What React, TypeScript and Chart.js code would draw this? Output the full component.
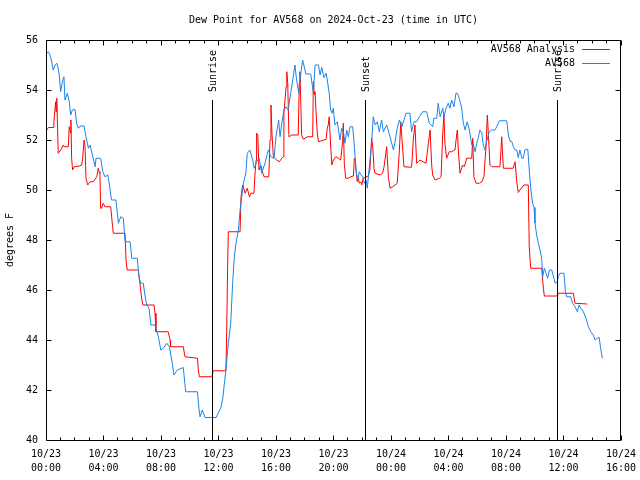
import { useEffect, useRef } from 'react';
import { Chart, registerables } from 'chart.js';

Chart.register(...registerables);

const TITLE = 'Dew Point for AV568 on 2024-Oct-23 (time in UTC)';
const Y_TITLE = 'degrees F';
const FONT = 'DejaVu Sans Mono';

// minutes since 10/23 00:00 UTC
const obsMinutes = [
  3, 10, 17, 24, 30, 38, 45, 51, 56, 61, 70, 75, 79, 89, 97, 103, 110, 121, 128, 135,
  142, 159, 167, 177, 184, 197, 205, 209, 228, 237, 246, 258, 267, 271, 274, 292, 302, 312, 323, 330,
  351, 358, 381, 388, 395, 406, 413, 420, 430, 438, 455, 469, 479, 490, 504, 515, 525, 534, 548, 573,
  583, 632, 639, 643, 652, 664, 710, 719, 729, 738, 743, 751, 761, 771, 779, 786, 793, 803, 810, 817,
  824, 834, 840, 851, 863, 869, 879, 890, 900, 914, 928, 938, 952, 960, 971, 977, 984, 993, 1002, 1011,
  1021, 1030, 1039, 1046, 1055, 1060, 1071, 1085, 1105, 1116, 1123, 1137, 1144, 1151, 1160, 1169, 1174, 1182, 1188, 1194,
  1199, 1206, 1216, 1227, 1234, 1241, 1248, 1255, 1262, 1269, 1280, 1286, 1294, 1301, 1308, 1315, 1322, 1329, 1336, 1341,
  1349, 1359, 1366, 1374, 1383, 1391, 1401, 1408, 1422, 1436, 1443, 1450, 1457, 1466, 1475, 1485, 1503, 1519, 1526, 1536,
  1547, 1558, 1572, 1589, 1600, 1614, 1619, 1631, 1637, 1645, 1656, 1661, 1670, 1679, 1686, 1693, 1703, 1711, 1717, 1725,
  1735, 1742, 1749, 1758, 1767, 1777, 1783, 1791, 1798, 1804, 1811, 1819, 1825, 1832, 1839, 1850, 1860, 1874, 1881, 1892,
  1923, 1930, 1937, 1944, 1950, 1958, 1965, 1971, 1978, 1986, 1992, 1999, 2011, 2017, 2024, 2031, 2037, 2041, 2048, 2055,
  2062, 2069, 2073, 2080, 2087, 2094, 2101, 2111, 2120, 2125, 2134, 2138, 2145, 2162, 2168, 2173, 2190, 2198, 2208, 2218,
  2225, 2232, 2243, 2254, 2264, 2274, 2284, 2292, 2301, 2309, 2315, 2322,
];
const obsValues = [
  55.47, 55.53, 55.4, 55.13, 54.8, 55.0, 55.07, 54.87, 54.53, 53.93, 54.4, 54.53, 53.6, 53.87, 53.53, 53.0, 53.2, 53.23, 52.67, 52.47,
  52.56, 52.56, 52.13, 51.67, 51.8, 51.27, 50.93, 51.27, 51.27, 50.73, 50.53, 50.6, 50.07, 49.73, 49.6, 49.6, 48.67, 48.93, 48.87, 47.93,
  47.93, 47.27, 47.27, 46.53, 46.27, 46.27, 45.8, 45.4, 45.27, 44.6, 44.6, 44.13, 43.6, 43.67, 43.87, 43.73, 43.2, 42.6, 42.8, 42.9,
  41.93, 41.93, 41.2, 40.93, 41.2, 40.9, 40.9, 41.07, 41.27, 41.67, 42.13, 42.8, 43.87, 44.67, 46.27, 47.33, 47.87, 48.4, 49.2, 49.73,
  50.27, 50.67, 51.47, 51.6, 51.2, 50.87, 51.13, 51.27, 50.67, 51.07, 51.6, 51.33, 51.27, 52.13, 52.8, 52.13, 52.67, 53.2, 53.33, 53.2,
  53.87, 54.4, 55.0, 54.4, 53.87, 54.4, 55.2, 54.64, 54.64, 53.87, 55.0, 55.0, 54.6, 54.9, 54.5, 54.67, 54.4, 53.87, 53.2, 53.07,
  53.27, 52.6, 52.73, 52.0, 52.47, 52.33, 51.87, 52.4, 52.13, 52.53, 52.53, 51.87, 50.8, 50.4, 50.73, 50.6, 50.53, 50.27, 50.4, 50.07,
  50.87, 51.87, 52.93, 52.6, 52.73, 52.33, 52.8, 52.33, 52.6, 52.13, 51.87, 51.6, 51.93, 52.47, 52.8, 52.53, 53.07, 53.07, 52.33, 52.73,
  52.73, 52.93, 53.13, 53.13, 52.67, 52.53, 52.87, 52.87, 53.47, 52.93, 53.27, 52.93, 53.27, 53.47, 53.27, 53.6, 53.33, 53.87, 53.87, 53.67,
  53.27, 52.67, 52.4, 52.73, 52.4, 51.8, 51.87, 51.53, 51.87, 52.07, 52.4, 52.27, 51.8, 51.6, 51.93, 52.33, 52.4, 52.4, 52.53, 52.77,
  52.77, 52.2, 51.95, 51.95, 51.75, 51.6, 51.6, 51.3, 51.6, 51.27, 51.27, 51.6, 51.63, 50.8, 50.0, 49.47, 49.3, 48.67, 48.2, 47.87,
  47.6, 47.27, 46.53, 46.87, 46.67, 46.47, 46.8, 46.8, 46.47, 46.27, 46.33, 46.53, 46.67, 46.67, 45.93, 45.73, 45.73, 45.47, 45.33, 45.13,
  45.4, 45.27, 45.13, 44.87, 44.53, 44.33, 44.2, 44.0, 44.07, 44.1, 43.67, 43.27,
];

const anaMinutes = [
  3, 10, 30, 33, 40, 42, 45, 51, 61, 72, 76, 93, 97, 103, 104, 107, 111, 118, 139, 149,
  153, 159, 163, 167, 174, 184, 197, 212, 218, 222, 225, 228, 232, 239, 246, 270, 278, 281, 330, 334,
  339, 385, 392, 399, 404, 451, 455, 459, 510, 518, 520, 573, 580, 632, 636, 640, 692, 698, 751, 754,
  758, 761, 810, 814, 821, 831, 840, 849, 856, 868, 872, 877, 879, 884, 889, 896, 905, 910, 930, 935,
  939, 943, 949, 963, 974, 984, 990, 993, 1002, 1005, 1009, 1014, 1026, 1053, 1057, 1060, 1067, 1074, 1091, 1113,
  1116, 1120, 1123, 1127, 1132, 1137, 1169, 1174, 1178, 1182, 1188, 1193, 1199, 1210, 1220, 1230, 1238, 1241, 1245, 1251,
  1262, 1272, 1283, 1287, 1291, 1294, 1299, 1304, 1308, 1314, 1318, 1324, 1332, 1345, 1352, 1359, 1364, 1369, 1373, 1394,
  1405, 1411, 1422, 1429, 1436, 1447, 1466, 1475, 1481, 1485, 1489, 1494, 1526, 1533, 1540, 1547, 1554, 1561, 1586, 1596,
  1603, 1610, 1614, 1624, 1642, 1649, 1656, 1661, 1665, 1672, 1683, 1693, 1707, 1714, 1717, 1721, 1728, 1739, 1746, 1756,
  1777, 1781, 1786, 1795, 1809, 1819, 1828, 1837, 1842, 1846, 1853, 1860, 1895, 1902, 1909, 1950, 1958, 1965, 1971, 1978,
  1995, 2013, 2017, 2023, 2069, 2076, 2080, 2132, 2140, 2201, 2208, 2259,
];
const anaValues = [
  52.4, 52.5, 52.5, 52.73, 53.53, 53.13, 53.67, 51.47, 51.6, 51.8, 51.73, 51.73, 52.53, 52.27, 52.8, 51.27, 50.8, 50.93, 50.96, 51.0,
  51.27, 52.0, 51.73, 50.47, 50.2, 50.33, 50.33, 50.53, 50.87, 50.73, 50.67, 49.27, 49.27, 49.47, 49.33, 49.33, 48.53, 48.27, 48.27, 47.2,
  46.8, 46.8, 46.27, 45.67, 45.4, 45.4, 45.07, 44.33, 44.33, 44.0, 43.73, 43.73, 43.33, 43.27, 42.8, 42.53, 42.53, 42.77, 42.77, 44.2,
  46.9, 48.33, 48.33, 49.73, 50.2, 49.87, 50.07, 49.73, 49.87, 49.87, 50.6, 51.2, 52.27, 52.2, 50.8, 51.0, 50.67, 50.53, 50.53, 52.0,
  53.4, 52.27, 51.33, 51.2, 51.13, 51.27, 51.33, 53.07, 54.13, 54.73, 54.27, 52.13, 52.2, 52.2, 54.27, 54.73, 52.2, 52.03, 52.13, 52.13,
  54.33, 53.8, 53.93, 53.13, 52.33, 51.93, 52.03, 52.47, 52.6, 52.93, 51.8, 51.0, 51.2, 51.33, 51.27, 51.2, 51.93, 52.67, 51.07, 50.47,
  50.47, 50.53, 50.56, 51.27, 51.2, 50.8, 50.33, 50.47, 50.27, 50.33, 50.2, 50.47, 50.5, 50.56, 50.8, 52.07, 51.73, 50.87, 50.67, 50.6,
  50.67, 50.93, 51.73, 50.53, 50.07, 50.13, 50.27, 51.6, 52.73, 52.13, 51.6, 50.93, 50.91, 52.0, 52.6, 51.07, 51.13, 51.2, 51.07, 51.87,
  52.4, 50.97, 50.6, 50.4, 50.47, 50.53, 52.27, 53.0, 51.87, 51.27, 51.53, 51.53, 51.6, 52.2, 52.4, 51.6, 50.67, 51.0, 50.93, 51.27,
  51.27, 52.07, 50.53, 50.27, 50.27, 50.33, 50.53, 51.8, 53.0, 52.33, 51.0, 50.93, 50.93, 52.13, 50.87, 50.87, 51.13, 50.33, 49.9, 50.0,
  50.2, 50.2, 47.73, 46.87, 46.87, 46.07, 45.76, 45.76, 45.87, 45.87, 45.47, 45.44,
];

const eventMinutes = [693, 1332, 2133];
const eventLabels = ['Sunrise', 'Sunset', 'Sunrise'];

const xMajorTicks = [0, 240, 480, 720, 960, 1200, 1440, 1680, 1920, 2160, 2400];
const xTickLabels = [
  ['10/23', '00:00'], ['10/23', '04:00'], ['10/23', '08:00'], ['10/23', '12:00'],
  ['10/23', '16:00'], ['10/23', '20:00'], ['10/24', '00:00'], ['10/24', '04:00'],
  ['10/24', '08:00'], ['10/24', '12:00'], ['10/24', '16:00'],
];
const xMinorStep = 60;
const yTicks = [40, 42, 44, 46, 48, 50, 52, 54, 56];

const seriesLabels = ['AV568 Analysis', 'AV568'];
const seriesColors = ['#ff0000', '#1a84ea'];

const framePlugin = {
  id: 'gnuframe',
  afterDatasetsDraw(chart: any) {
    const { ctx, chartArea: a, scales } = chart;
    const xs = scales.x;
    const ys = scales.y;
    const snap = (v: number) => Math.floor(v) + 0.5;
    ctx.save();
    ctx.strokeStyle = '#000';
    ctx.lineWidth = 1;
    // event lines
    ctx.font = `10px "${FONT}"`;
    ctx.fillStyle = '#000';
    eventMinutes.forEach((m, i) => {
      const px = snap(xs.getPixelForValue(m));
      ctx.beginPath();
      ctx.moveTo(px, a.top + 60);
      ctx.lineTo(px, a.bottom);
      ctx.stroke();
      ctx.save();
      ctx.translate(px + 1, a.top + 52);
      ctx.rotate(-Math.PI / 2);
      ctx.textAlign = 'left';
      ctx.textBaseline = 'middle';
      ctx.fillText(eventLabels[i], 0, 0);
      ctx.restore();
    });
    // border
    const L = snap(a.left), R = snap(a.right - 1), T = snap(a.top), B = snap(a.bottom);
    ctx.beginPath();
    ctx.rect(L, T, R - L, B - T);
    ctx.stroke();
    // ticks, pointing inward on all four sides
    ctx.beginPath();
    for (let m = xs.min; m <= xs.max; m += xMinorStep) {
      const px = snap(xs.getPixelForValue(m));
      const len = xMajorTicks.includes(m) ? 5 : 3;
      ctx.moveTo(px, B);
      ctx.lineTo(px, B - len);
      ctx.moveTo(px, T);
      ctx.lineTo(px, T + len);
    }
    yTicks.forEach((v) => {
      const py = snap(ys.getPixelForValue(v));
      ctx.moveTo(L, py);
      ctx.lineTo(L + 5, py);
      ctx.moveTo(R, py);
      ctx.lineTo(R - 5, py);
    });
    ctx.stroke();
    // legend
    ctx.textAlign = 'right';
    ctx.textBaseline = 'middle';
    chart.data.datasets.forEach((ds: any, i: number) => {
      const y = Math.round(a.top + 9 + i * 13.5) + 0.5;
      ctx.fillStyle = '#000';
      ctx.fillText(ds.label, a.right - 46, y);
      ctx.strokeStyle = ds.borderColor;
      ctx.beginPath();
      ctx.moveTo(a.right - 39, y);
      ctx.lineTo(a.right - 11, y);
      ctx.stroke();
    });
    ctx.restore();
  },
};

export default function App() {
  const ref = useRef<HTMLCanvasElement>(null);
  useEffect(() => {
    if (!ref.current) return;
    const chart = new Chart(ref.current, {
      type: 'line',
      data: {
        datasets: [
          {
            label: seriesLabels[0],
            data: anaMinutes.map((m, i) => ({ x: m, y: anaValues[i] })),
            borderColor: seriesColors[0],
            borderWidth: 1,
            pointRadius: 0,
            tension: 0,
            order: 1,
          },
          {
            label: seriesLabels[1],
            data: obsMinutes.map((m, i) => ({ x: m, y: obsValues[i] })),
            borderColor: seriesColors[1],
            borderWidth: 1,
            pointRadius: 0,
            tension: 0,
            order: 0,
          },
        ],
      },
      options: {
        animation: false,
        responsive: false,
        devicePixelRatio: 1,
        layout: { padding: { left: 0, right: 19, top: 0, bottom: 0 } },
        plugins: {
          legend: { display: false },
          tooltip: { enabled: false },
          title: {
            display: true,
            text: TITLE,
            fullSize: false,
            color: '#000',
            font: { family: FONT, size: 10, weight: 'normal' },
            padding: { top: 14, bottom: 14 },
          },
        },
        scales: {
          x: {
            type: 'linear',
            min: 0,
            max: 2400,
            afterFit: (s: any) => {
              s.height = 40;
              s.paddingLeft = 0;
              s.paddingRight = 0;
            },
            afterBuildTicks: (s: any) => { s.ticks = xMajorTicks.map((v) => ({ value: v })); },
            grid: { display: false, drawTicks: false },
            border: { display: false },
            ticks: {
              autoSkip: false,
              maxRotation: 0,
              padding: 7,
              color: '#000',
              font: { family: FONT, size: 10, lineHeight: 1.4 },
              callback: (v: any) => {
                const i = xMajorTicks.indexOf(Number(v));
                return i >= 0 ? xTickLabels[i] : '';
              },
            },
          },
          y: {
            type: 'linear',
            min: 40,
            max: 56,
            afterFit: (s: any) => {
              s.width = 46;
              s.paddingTop = 0;
              s.paddingBottom = 0;
            },
            afterBuildTicks: (s: any) => { s.ticks = yTicks.map((v) => ({ value: v })); },
            grid: { display: false, drawTicks: false },
            border: { display: false },
            ticks: {
              padding: 8,
              color: '#000',
              font: { family: FONT, size: 10 },
            },
            title: {
              display: true,
              text: Y_TITLE,
              color: '#000',
              font: { family: FONT, size: 10 },
              padding: { top: 4, bottom: 0 },
            },
          },
        },
      },
      plugins: [framePlugin],
    });
    return () => chart.destroy();
  }, []);
  return (
    <div style={{ position: 'absolute', left: 0, top: 0, width: 640, height: 480, background: '#fff' }}>
      <canvas ref={ref} width={640} height={480} style={{ width: 640, height: 480 }} />
    </div>
  );
}
